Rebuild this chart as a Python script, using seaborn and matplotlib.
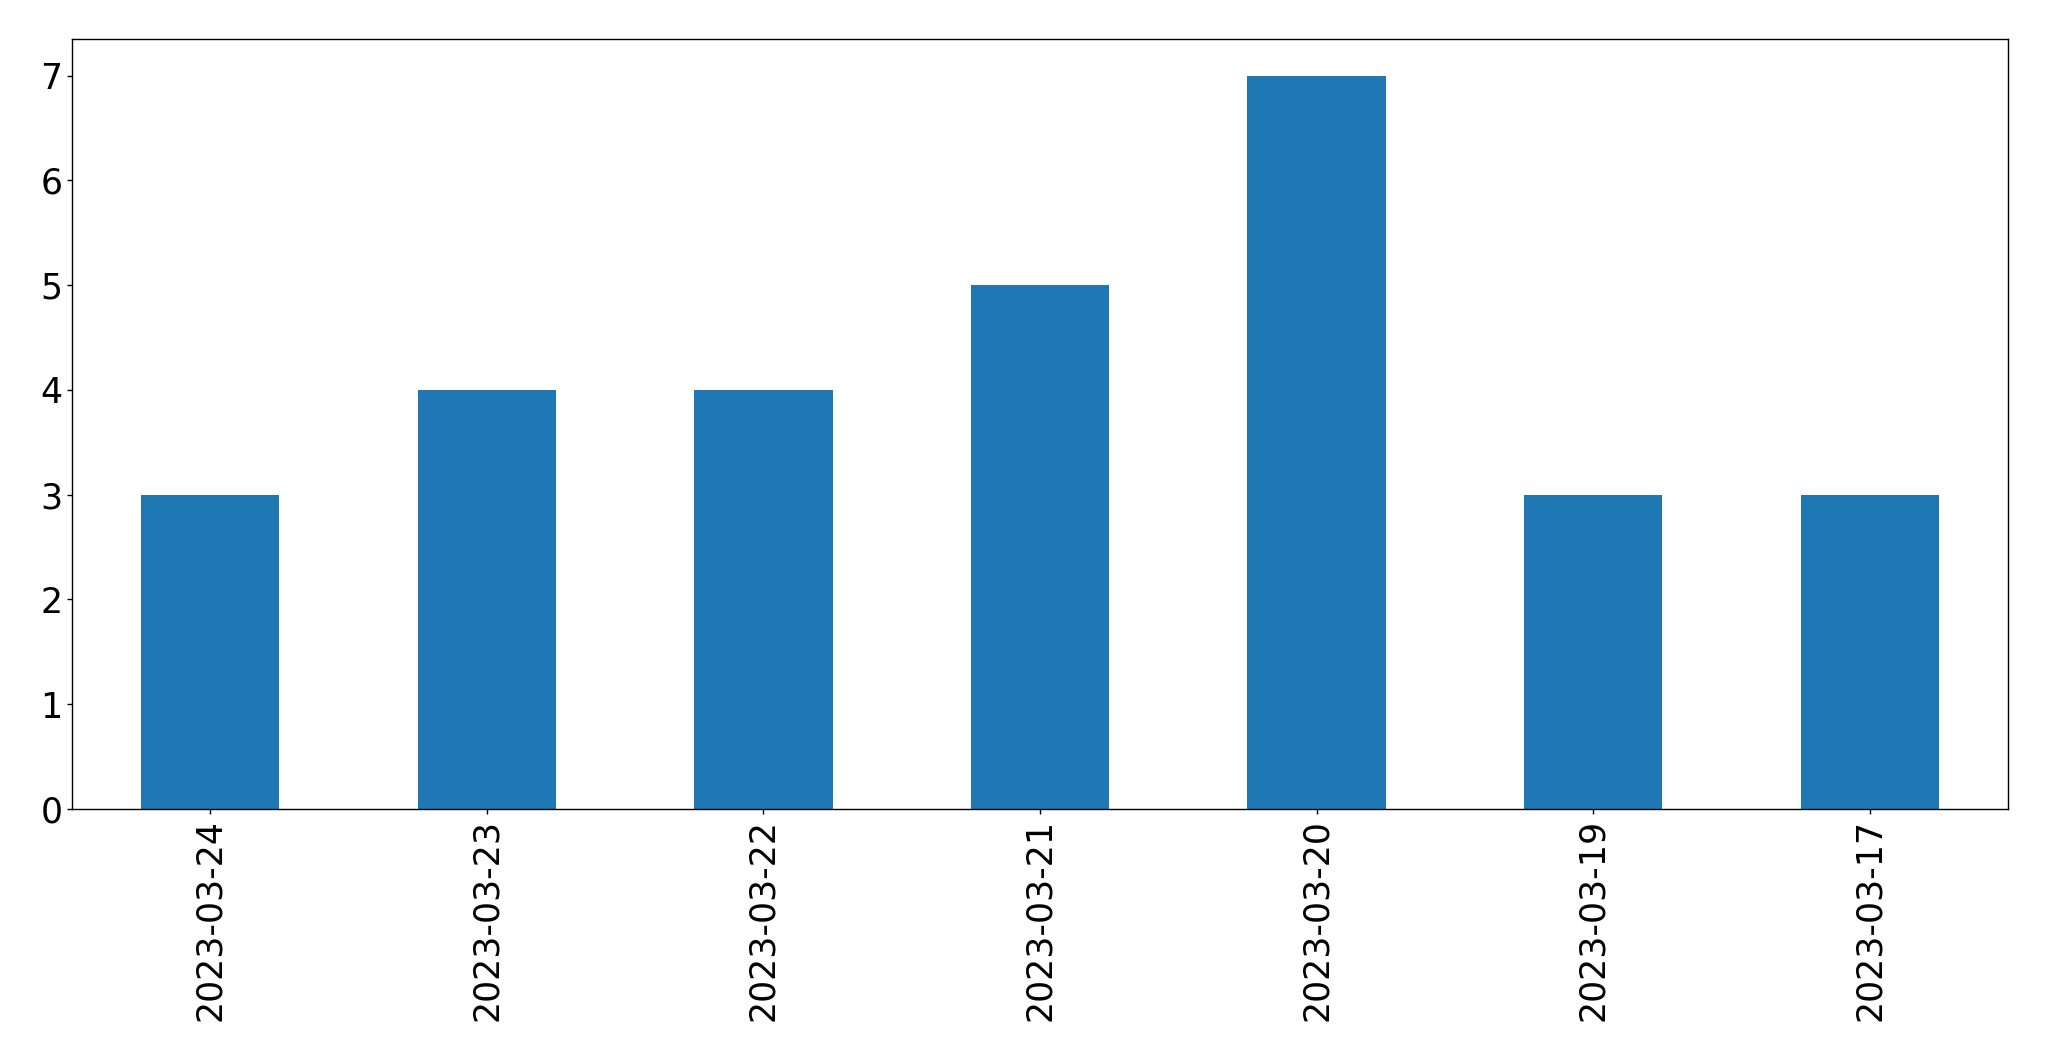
import matplotlib
matplotlib.use("Agg")
import matplotlib.pyplot as plt
import pandas as pd
import seaborn as sns

# counts per day, in the order shown
dates = ["2023-03-24", "2023-03-23", "2023-03-22", "2023-03-21",
         "2023-03-20", "2023-03-19", "2023-03-17"]
counts = [3, 4, 4, 5, 7, 3, 3]

df = pd.DataFrame({"date": dates, "count": counts})

sns.set_style("ticks")
plt.rcParams["font.family"] = ["DejaVu Sans"]
plt.rcParams["text.color"] = "black"
plt.rcParams["xtick.color"] = "black"
plt.rcParams["ytick.color"] = "black"
plt.rcParams["axes.edgecolor"] = "black"

fig, ax = plt.subplots(figsize=(20.49, 10.61), dpi=100)
fig.subplots_adjust(left=72 / 2049, right=2008 / 2049, top=1 - 39 / 1061, bottom=1 - 809 / 1061)

sns.barplot(data=df, x="date", y="count", color="#1f77b4", saturation=1,
            width=0.5, linewidth=0, ax=ax)

ax.set_xlim(-0.5, len(dates) - 0.5)
ax.set_ylim(0, 7.35)
ax.set_xlabel("")
ax.set_ylabel("")

# rotate the dates so they don't overlap
plt.xticks(rotation=90, fontsize=25, color="black")
plt.yticks(fontsize=25, color="black")
for side in ax.spines.values():
    side.set_visible(True)
    side.set_color("black")
    side.set_linewidth(1)
ax.tick_params(direction="out", length=3.5, width=1, color="black")

fig.savefig("out.png", dpi=100)
